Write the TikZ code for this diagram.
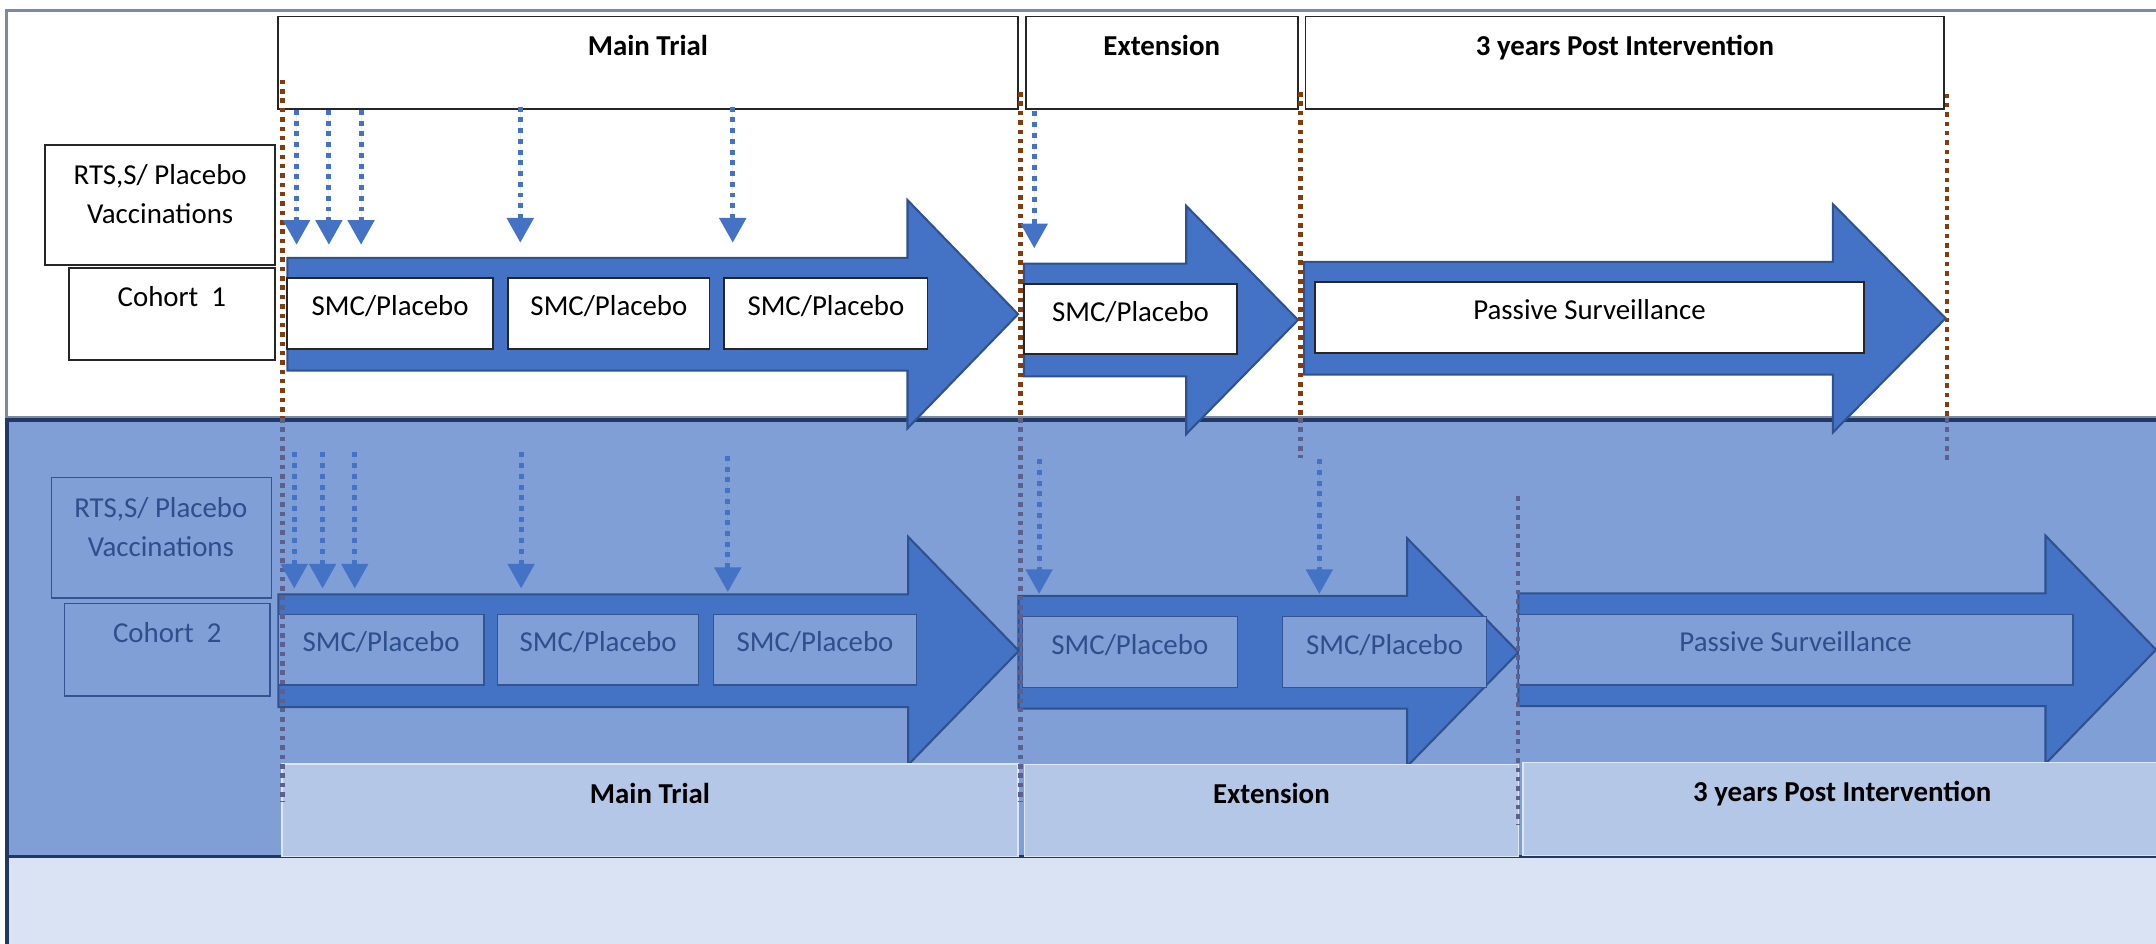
\documentclass[tikz,border=0pt]{standalone}
\usepackage{fontspec}
\setmainfont{Carlito}
\usetikzlibrary{arrows.meta}
\definecolor{arrow_blue}{RGB}{68,114,196}
\definecolor{arrow_edge}{RGB}{47,82,143}
\definecolor{dot_brown}{RGB}{132,60,12}
\definecolor{dot_gray}{RGB}{92,96,140}
\definecolor{frame_gray}{RGB}{125,137,160}
\definecolor{frame_dark}{RGB}{31,56,100}
\definecolor{panel_blue}{RGB}{127,159,214}
\definecolor{panel_light}{RGB}{218,227,243}
\definecolor{label_blue}{RGB}{180,199,231}
\definecolor{label_edge}{RGB}{222,231,246}
\definecolor{faded_text}{RGB}{47,78,140}
\definecolor{faded_edge}{RGB}{52,84,145}
\definecolor{box_dark}{RGB}{38,38,38}

\begin{document}
\begin{tikzpicture}[x=1pt,y=-1pt,>={Triangle[width=19pt,length=18pt]}]
    \tikzstyle{every node}=[font=\fontsize{21pt}{28pt}\selectfont, inner sep=0pt]
    \tikzstyle{box}=[draw=box_dark, line width=1.3pt, fill=white, text=black, text height=15pt]
    \tikzstyle{headbox}=[style=box, font=\fontsize{21pt}{28pt}\selectfont\bfseries, text depth=25pt]
    \tikzstyle{cohortbox}=[style=box, text depth=25pt]
    \tikzstyle{smcbox}=[style=box, text depth=12pt]
    \tikzstyle{fadedbox}=[draw=faded_edge, line width=1pt, fill=panel_blue, text=faded_text, text height=15pt]
    \tikzstyle{fadedcohort}=[style=fadedbox, text depth=25pt]
    \tikzstyle{fadedsmc}=[style=fadedbox, text depth=12pt]
    \tikzstyle{labelbox}=[draw=label_edge, line width=1pt, fill=label_blue, text=black, font=\fontsize{21pt}{28pt}\selectfont\bfseries, text height=15pt, text depth=25pt]
    \tikzstyle{fat}=[fill=arrow_blue, draw=arrow_edge, line width=1.5pt, line join=miter]
    \tikzstyle{vacc}=[->, draw=arrow_blue, fill=arrow_blue, line width=3.6pt, dash pattern=on 3.6pt off 4.2pt]
    \tikzstyle{guide}=[draw=dot_brown, line width=3.3pt, dash pattern=on 3.3pt off 3.5pt]
    \tikzstyle{fadedguide}=[style=guide, draw=dot_gray]

    \useasboundingbox (0,0) rectangle (1568,686);

    % panels
    \fill[white] (5,7.5) rectangle (1580,304);
    \draw[frame_gray, line width=2.2pt] (1580,7.5) -- (5,7.5) -- (5,304) -- (1580,304);
    \fill[panel_blue] (5,305) rectangle (1580,623);
    \fill[panel_light] (5,623) rectangle (1580,700);
    \draw[frame_dark, line width=2.5pt] (1580,305.5) -- (5,305.5) -- (5,700);
    \draw[frame_dark, line width=2.5pt] (5,623) -- (1580,623);

    % cohort 1
    \node[headbox, minimum width=538pt, minimum height=67pt]   (main1) at (471.2,45.5)  {Main Trial};
    \node[headbox, minimum width=198pt, minimum height=67pt]   (ext1)  at (844.9,45.5)  {Extension};
    \node[headbox, minimum width=464.5pt, minimum height=67pt] (post1) at (1181.75,45.5) {3 years Post Intervention};

    \node[box, minimum width=167pt, minimum height=87pt] (vacc1) at (116.5,149.1) {};
    \node[align=center] (vacc1txt) at (116.5,141) {RTS,S/ Placebo\\Vaccinations};
    \node[cohortbox, minimum width=150pt, minimum height=67pt] (coh1) at (125,228.25) {Cohort\ \ 1};

    \draw[fat] (209,187.5) -- (660,187.5) -- (660,145.5) -- (740.4,228.5) -- (660,311.5) -- (660,269.5) -- (209,269.5) -- cycle;
    \draw[fat] (744.7,191.7) -- (862.7,191.7) -- (862.7,149.7) -- (944,232.7) -- (862.7,315.7) -- (862.7,273.7) -- (744.7,273.7) -- cycle;
    \draw[fat] (948.4,190.5) -- (1333,190.5) -- (1333,148.5) -- (1415,231.5) -- (1333,314.5) -- (1333,272.5) -- (948.4,272.5) -- cycle;

    \node[smcbox, minimum width=149.5pt, minimum height=51.6pt] (smc1a) at (283.75,228.2) {SMC/Placebo};
    \node[smcbox, minimum width=146.3pt, minimum height=51.6pt] (smc1b) at (442.85,228.2) {SMC/Placebo};
    \node[smcbox, minimum width=147.8pt, minimum height=51.6pt] (smc1c) at (600.7,228.2)  {SMC/Placebo};
    \node[smcbox, minimum width=155pt, minimum height=51.2pt]   (smc1d) at (822.2,232.1)  {SMC/Placebo};
    \node[smcbox, minimum width=398.9pt, minimum height=51.7pt] (pass1) at (1155.95,231.15) {Passive Surveillance};

    % cohort 2
    \node[fadedbox, minimum width=160pt, minimum height=87.6pt] (vacc2) at (117.25,391) {};
    \node[align=center, text=faded_text] (vacc2txt) at (117,383.5) {RTS,S/ Placebo\\Vaccinations};
    \node[fadedcohort, minimum width=149.3pt, minimum height=67.3pt] (coh2) at (121.65,472.45) {Cohort\ \ 2};

    \draw[fat] (202.4,432.3) -- (660.4,432.3) -- (660.4,390.3) -- (741,473.3) -- (660.4,556.3) -- (660.4,514.3) -- (202.4,514.3) -- cycle;
    \draw[fat] (740.7,433.4) -- (1023.3,433.4) -- (1023.3,391.4) -- (1104.3,474.4) -- (1023.3,557.4) -- (1023.3,515.4) -- (740.7,515.4) -- cycle;
    \draw[fat] (1104.3,431.5) -- (1487.6,431.5) -- (1487.6,389.5) -- (1568,472.5) -- (1487.6,555.5) -- (1487.6,513.5) -- (1104.3,513.5) -- cycle;

    \node[fadedsmc, minimum width=149.5pt, minimum height=51.5pt] (smc2a) at (277.15,472.45) {SMC/Placebo};
    \node[fadedsmc, minimum width=146pt, minimum height=51.5pt]   (smc2b) at (435,472.45)    {SMC/Placebo};
    \node[fadedsmc, minimum width=147.5pt, minimum height=51.5pt] (smc2c) at (592.75,472.45) {SMC/Placebo};
    \node[fadedsmc, minimum width=156.6pt, minimum height=51.6pt] (smc2d) at (821.7,474.2)   {SMC/Placebo};
    \node[fadedsmc, minimum width=148.5pt, minimum height=51.6pt] (smc2e) at (1006.95,474.2)  {SMC/Placebo};
    \node[fadedsmc, minimum width=403.2pt, minimum height=51.5pt] (pass2) at (1305.9,472.45) {Passive Surveillance};

    \node[labelbox, minimum width=535.4pt, minimum height=67.4pt] (main2) at (472.7,589.3)  {Main Trial};
    \node[labelbox, minimum width=359.3pt, minimum height=67pt]   (ext2)  at (924.65,589.5) {Extension};
    \node[labelbox, minimum width=464.5pt, minimum height=67.6pt] (post2) at (1339.75,588.2) {3 years Post Intervention};

    % phase limits
    \foreach \x/\ya/\yb/\yc [count=\i] in {205.5/58/304/583, 742/67/304/583, 946/67/304/333, 1416/68/304/335} {
      \coordinate (ga\i) at (\x,\ya);
      \coordinate (gb\i) at (\x,\yb);
      \coordinate (gc\i) at (\x,\yc);
      \draw[guide] (ga\i) -- (gb\i);
      \draw[fadedguide] (gb\i) -- (gc\i);
    }
    \coordinate (gd) at (1104,361);
    \coordinate (ge) at (1104,600);
    \draw[fadedguide] (gd) -- (ge);

    % vaccinations
    \foreach \x/\ya/\yb [count=\i] in {215.7/80/178, 239.2/80/178, 262.6/80/178, 378.4/77.6/176.5, 532.9/77.6/176.5, 752.2/81/180.6,
                                      214/329/428, 234.6/329/428, 258/329/428, 379/329/428, 529.3/331.6/430.6, 755.7/334/432, 959.5/334/432} {
      \coordinate (va\i) at (\x,\ya);
      \coordinate (vb\i) at (\x,\yb);
      \draw[vacc] (va\i) -- (vb\i);
    }
\end{tikzpicture}
\end{document}
